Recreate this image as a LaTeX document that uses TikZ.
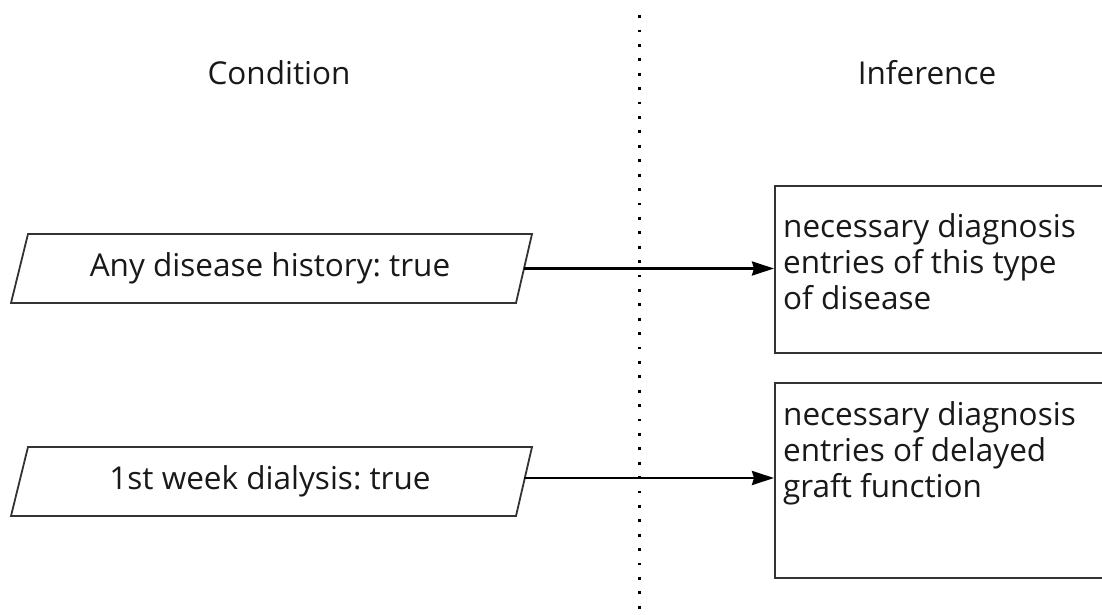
\documentclass[tikz,border=0pt]{standalone}
\usepackage{fontspec}
\setmainfont{Open Sans}
\usetikzlibrary{arrows.meta}
\begin{document}
\frenchspacing
\begin{tikzpicture}[x=1pt,y=-1pt,
  lbl/.style={font=\fontsize{31.5}{36}\selectfont, inner sep=0pt, text=black!90},
  infbox/.style={draw, line width=1.8pt, draw=black!80, minimum width=360pt, anchor=north west, inner sep=0pt},
  condshape/.style={draw=black!80, line width=1.8pt},
  conn/.style={line width=2.6pt, -{Stealth[length=22pt,width=14pt,inset=2pt]}},
  divider/.style={line width=3pt, dash pattern=on 2.8pt off 11.6pt}
]
\clip (0,0) rectangle (1102,615);
\fill[white] (0,0) rectangle (1102,615);
% headers
\node[lbl] (hcond) at (279,73) {Condition};
\node[lbl] (hinf) at (927,73) {Inference};
% divider
\coordinate (dtop) at (639,15.3);
\coordinate (dbot) at (639,620);
\draw[divider] (dtop) -- (dbot);
% condition parallelograms
\draw[condshape] (11,303) -- (28,234) -- (532,234) -- (516,303) -- cycle;
\node[lbl] (c1) at (270,268) {Any disease history: true};
\coordinate (c1e) at (524,268.5);
\draw[condshape] (11,516) -- (28,447) -- (532,447) -- (516,516) -- cycle;
\node[lbl] (c2) at (270,481) {1st week dialysis: true};
\coordinate (c2e) at (524,478);
% inference boxes
\node[infbox, minimum height=167pt] (b1) at (774,185) {};
\node[lbl, align=left, anchor=west] (t1) at (783,262) {necessary diagnosis\\entries of this type\\of disease};
\node[infbox, minimum height=195pt] (b2) at (774,382) {};
\node[lbl, align=left, anchor=west] (t2) at (783,453) {necessary diagnosis\\entries of delayed\\graft function};
% connectors
\draw[conn] (c1e) -- (c1e -| b1.west);
\draw[conn] (c2e) -- (c2e -| b2.west);
\end{tikzpicture}
\end{document}
